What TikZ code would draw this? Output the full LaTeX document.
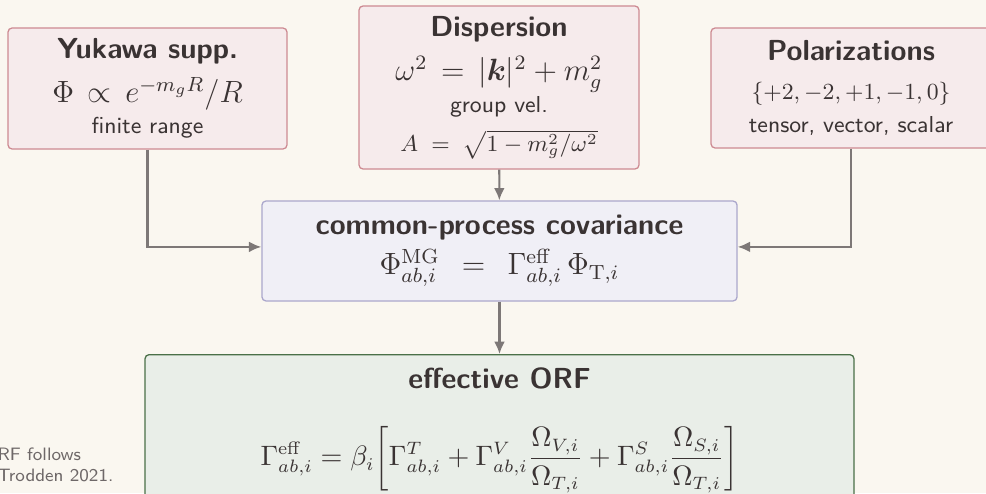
\documentclass[tikz,border=0pt]{standalone}
\usepackage{amsmath, amssymb, bm}
\usepackage{xcolor}
\usetikzlibrary{arrows.meta, positioning, calc}

\definecolor{bgcream}{HTML}{FAF7F0}
\definecolor{inkdark}{HTML}{3A3333}
\definecolor{pinkfill}{HTML}{F6EBEC}
\definecolor{pinkline}{HTML}{CD8A92}
\definecolor{lavfill}{HTML}{F0EFF6}
\definecolor{lavline}{HTML}{ABA7CC}
\definecolor{greenfill}{HTML}{E9EEE8}
\definecolor{greenline}{HTML}{4A7048}
\definecolor{arrowgray}{HTML}{7D7877}
\definecolor{notegray}{HTML}{6E6868}

\newcommand{\boxtitle}[1]{{\fontsize{11.3}{13.5}\selectfont\bfseries #1}}

\begin{document}
\begin{tikzpicture}[x=0.39pt, y=-0.39pt,
    box/.style={rounded corners=1.6pt, line width=0.5pt, align=center,
        text=inkdark, font=\sffamily, inner sep=0pt},
    inbox/.style={box, draw=pinkline, fill=pinkfill},
    midbox/.style={box, draw=lavline, fill=lavfill,
        minimum width=185.3pt, minimum height=39pt},
    outbox/.style={box, draw=greenline, fill=greenfill,
        minimum width=276.5pt, minimum height=59pt},
    flow/.style={draw=arrowgray, line width=0.8pt,
        -{Latex[length=4.8pt, width=4.2pt]}}]

    \useasboundingbox (0,0) rectangle (986,493);
    \fill[bgcream] (0,0) rectangle (986,493);
    \clip (0,0) rectangle (986,493);

    % three inputs
    \node[inbox, minimum width=108.8pt, minimum height=47.2pt] (yukawa) at (147.5,88.5)
        {\boxtitle{Yukawa supp.}\\[4pt]
         {\large $\Phi\,\propto\,e^{-m_gR}/R$}\\[0pt]
         {\small finite range}};
    \node[inbox, minimum width=109.2pt, minimum height=63.6pt] (disp) at (499,87.5)
        {\boxtitle{Dispersion}\\[5.5pt]
         {\large $\omega^2\,=\,|\bm{k}|^2+m_g^2$}\\[0.5pt]
         {\small group vel.}\\[3pt]
         {\small $A\;=\;\sqrt{1-m_g^2/\omega^2}$}};
    \node[inbox, minimum width=109.2pt, minimum height=46.8pt] (pol) at (851,88)
        {\boxtitle{Polarizations}\\[3pt]
         {\small $\{+2,-2,+1,-1,0\}$}\\[1pt]
         {\small tensor, vector, scalar}};

    % covariance and ORF
    \node[midbox] (cov) at (499.5,251)
        {\boxtitle{common-process covariance}\\[2.5pt]
         {\large $\Phi^{\mathrm{MG}}_{ab,i}\;\,=\;\,\Gamma^{\mathrm{eff}}_{ab,i}\,\Phi_{\mathrm{T},i}$}};
    \node[outbox, anchor=north] (orf) at (499.5,354)
        {\boxtitle{effective ORF}\\[13pt]
         {\fontsize{10.5}{12.5}\selectfont $\displaystyle \Gamma^{\mathrm{eff}}_{ab,i}=\beta_i\biggl[\Gamma^{T}_{ab,i}
           +\Gamma^{V}_{ab,i}\frac{\Omega_{V,i}}{\Omega_{T,i}}
           +\Gamma^{S}_{ab,i}\frac{\Omega_{S,i}}{\Omega_{T,i}}\biggr]$}};

    \node[anchor=west, align=left, font=\sffamily\scriptsize, text=notegray,
        inner sep=0pt] (note) at (-3,465) {RF follows\\Trodden 2021.};

    % connectors
    \draw[flow] (yukawa.south) |- ([yshift=1.6pt]cov.west);
    \draw[flow] (pol.south) |- ([yshift=1.6pt]cov.east);
    \draw[flow] (disp) -- (cov);
    \draw[flow] (cov) -- (orf);
\end{tikzpicture}
\end{document}
